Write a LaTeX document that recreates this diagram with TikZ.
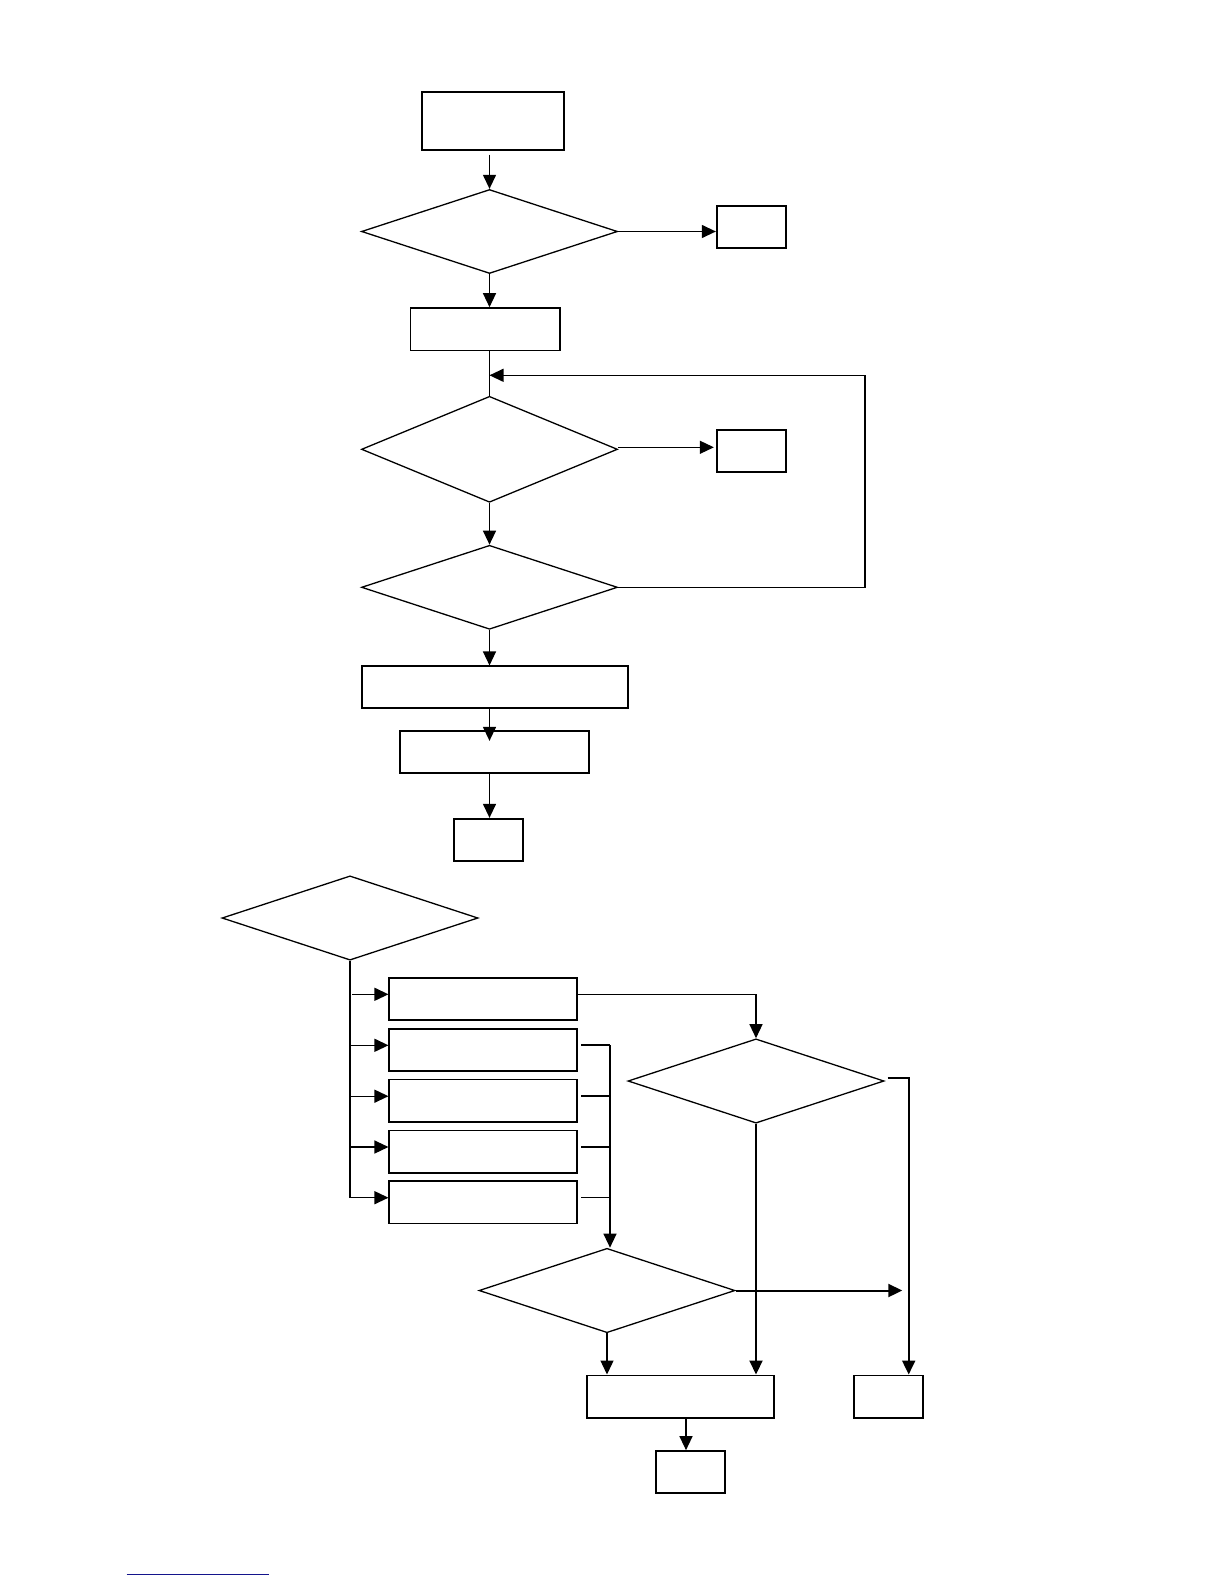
\documentclass[tikz,border=0pt]{standalone}
\usetikzlibrary{arrows.meta,shapes.geometric,calc}
\definecolor{sepblue}{RGB}{20,20,140}
\tikzset{
  boxnode/.style={draw,line width=1.7pt,rectangle,inner sep=0pt,minimum width=#1},
  decnode/.style={draw,line width=1.3pt,diamond,inner sep=0pt,minimum width=256pt},
  conn/.style={line width=1.3pt},
  thick conn/.style={line width=2pt},
  arr/.style={line width=1.3pt,-{Triangle[length=14pt,width=13pt]}},
  thick arr/.style={line width=2pt,-{Triangle[length=14pt,width=13pt]}}
}
\begin{document}
\begin{tikzpicture}[x=1pt,y=-1pt]
\useasboundingbox[fill=white] (0,0) rectangle (1224,1584);

% upper flow
\node[boxnode=142.6pt,minimum height=58.6pt] (A) at (493,121) {};
\node[decnode,minimum height=84pt] (D1) at (489.5,231.5) {};
\node[boxnode=69.6pt,minimum height=42pt] (R1) at (751.5,227.3) {};
\node[boxnode=149.7pt,minimum height=42.3pt] (Bx2) at (485.2,329.2) {};
\node[decnode,minimum height=106pt] (D2) at (489.5,449.3) {};
\node[boxnode=69.6pt,minimum height=42.6pt] (R2) at (751.5,451) {};
\node[decnode,minimum height=84pt] (D3) at (489.5,587.3) {};
\node[boxnode=266.6pt,minimum height=42pt] (Bx3) at (495,687.3) {};
\node[boxnode=188.4pt,minimum height=42pt] (Bx4) at (494.5,752.3) {};
\node[boxnode=69pt,minimum height=42.6pt] (Bx5) at (488.8,840) {};

\coordinate (J) at (489.5,375.3);
\coordinate (loopR) at (865,375.3);

\draw[arr] ($(D1.north |- A.south)+(0,3.5)$) -- (D1.north);
\draw[arr] (D1.east) -- (D1.east -| R1.west);
\draw[arr] (D1.south) -- (D1.south |- Bx2.north);
\draw[conn] (D2.north |- Bx2.south) -- (D2.north);
\draw[arr] (D3.east) -| (loopR) -- (J);
\draw[arr] ($(D2.east)+(0,-2)$) -- ($(D2.east -| R2.west)+(-2,-2)$);
\draw[arr] (D2.south) -- (D3.north);
\draw[arr] (D3.south) -- (D3.south |- Bx3.north);
\draw[arr] (D3.south |- Bx3.south) -- ($(D3.south |- Bx4.north)+(0,10.4)$);
\draw[arr] (D3.south |- Bx4.south) -- (D3.south |- Bx5.north);

% lower flow
\node[decnode,minimum height=84.3pt] (D4) at (350,918) {};
\node[boxnode=188pt,minimum height=42.3pt] (B1) at (483.3,998.8) {};
\node[boxnode=188pt,minimum height=42.3pt] (B2) at (483.3,1049.8) {};
\node[boxnode=188pt,minimum height=42.3pt] (B3) at (483.3,1100.7) {};
\node[boxnode=188pt,minimum height=42.3pt] (B4) at (483.3,1151.5) {};
\node[boxnode=188pt,minimum height=42.3pt] (B5) at (483.3,1202.2) {};
\node[decnode,minimum height=84.3pt] (D5) at (756,1081) {};
\node[decnode,minimum height=84.4pt] (D6) at (607,1290.5) {};
\node[boxnode=187.6pt,minimum height=42.7pt] (Bx6) at (680.5,1396.7) {};
\node[boxnode=69.6pt,minimum height=42.7pt] (Bx7) at (888.5,1396.7) {};
\node[boxnode=69.6pt,minimum height=42pt] (Bx8) at (690.5,1472) {};

% branch points (arrows enter boxes slightly above centre)
\foreach \b in {B1,B2,B3,B4,B5}{
  \coordinate (\b w) at ([yshift=4.5pt]\b.west);
  \coordinate (\b e) at ([yshift=4.5pt]\b.east);
}

% trunk from D4 with branches
\draw[thick conn] (D4.south) -- (D4.south |- B5w);
\draw[arr] ($(D4.south |- B1w)+(2,0)$) -- (B1w);
\foreach \b in {B2,B3,B4,B5}{
  \draw[arr] (D4.south |- \b w) -- (\b w);
}

% B1 to D5
\draw[arr] (B1e) -| (D5.north);

% stubs B2..B5 to D6
\coordinate (S2) at (610,1045.3);
\draw[thick conn] ($(B2e)+(3,0)$) -- (B2e -| S2);
\draw[thick conn] ($(B3e)+(3,0)$) -- (B3e -| S2);
\draw[conn] ($(B4e)+(3,0)$) -- (B4e -| S2);
\draw[conn] ($(B5e)+(3,0)$) -- (B5e -| S2);
\draw[arr] (B2e -| S2) -- (S2 |- D6.north);

% D5 outputs
\coordinate (R5) at (908.7,1078.3);
\draw[thick arr] ($(D5.east)+(3,-2.7)$) -| (R5 |- Bx7.north);
\draw[thick arr] (D5.south) -- (D5.south |- Bx6.north);

% D6 outputs
\coordinate (E6) at (902.3,1291);
\draw[thick arr] (D6.east) -- (D6.east -| E6);
\draw[arr] (D6.south) -- (D6.south |- Bx6.north);

% Bx6 to Bx8
\coordinate (M6) at (686,1418);
\draw[arr] (M6 |- Bx6.south) -- (M6 |- Bx8.north);

% separator line
\draw[sepblue,line width=1.3pt] (126.7,1574.7) -- (269,1574.7);
\end{tikzpicture}
\end{document}
